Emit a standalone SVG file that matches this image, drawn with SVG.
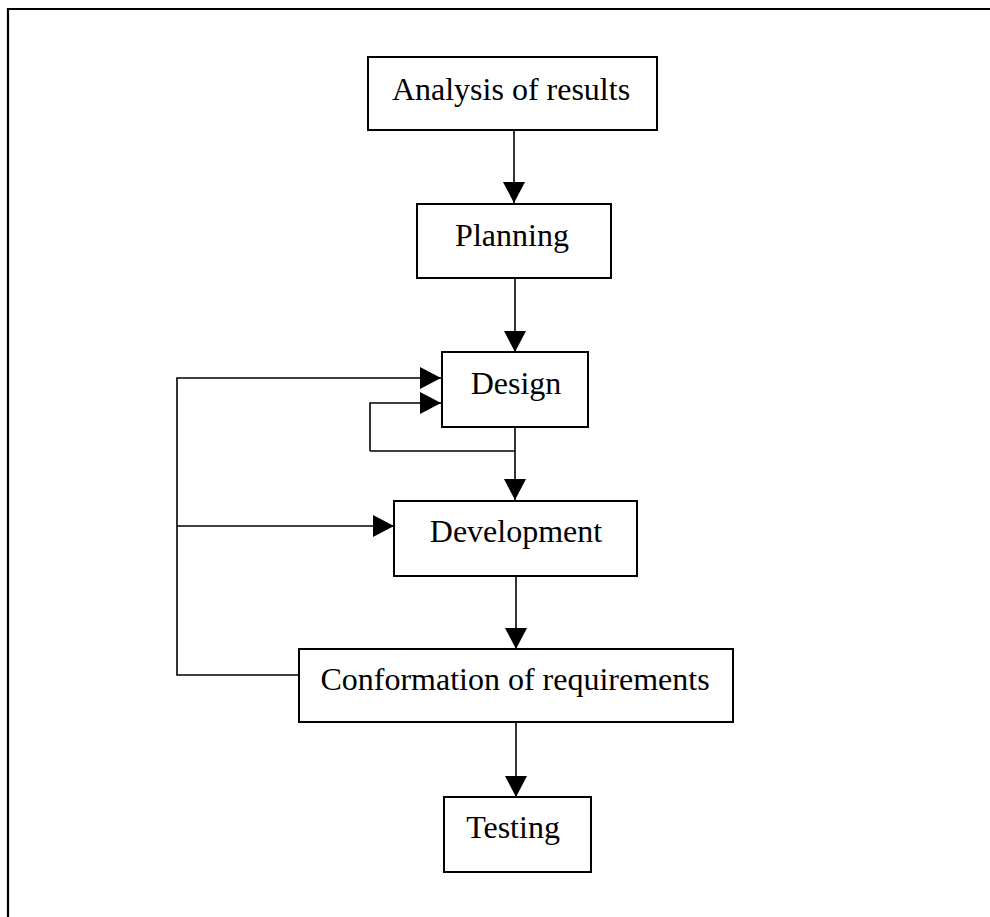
<svg xmlns="http://www.w3.org/2000/svg" width="990" height="917" viewBox="0 0 990 917">
<defs>
<style>
.box{fill:#fff;stroke:#000;stroke-width:2}
.lbl{font-family:"Liberation Serif","Times New Roman",serif;font-size:32px;fill:#000;text-anchor:middle}
.ln{fill:none;stroke:#000;stroke-width:1.6}
.frame{fill:none;stroke:#000;stroke-width:2.2}
</style>
<marker id="ah" markerUnits="userSpaceOnUse" markerWidth="22" markerHeight="22" viewBox="0 0 21 22" refX="21" refY="11" orient="auto">
<path d="M0,0 L21,11 L0,22 Z" fill="#000"/>
</marker>
</defs>
<rect width="990" height="917" fill="#fff"/>
<path class="frame" d="M8,917 L8,9 L990,9"/>
<g id="connectors">
<path class="ln" d="M514,130 L514,203" marker-end="url(#ah)"/>
<path class="ln" d="M515,278 L515,352" marker-end="url(#ah)"/>
<path class="ln" d="M515,427 L515,500" marker-end="url(#ah)"/>
<path class="ln" d="M370,451 L515,451"/>
<path class="ln" d="M370,451 L370,403 L441,403" marker-end="url(#ah)"/>
<path class="ln" d="M299,675 L177,675 L177,378 L441,378" marker-end="url(#ah)"/>
<path class="ln" d="M177,526 L394,526" marker-end="url(#ah)"/>
<path class="ln" d="M516,576 L516,649" marker-end="url(#ah)"/>
<path class="ln" d="M516,722 L516,797" marker-end="url(#ah)"/>
</g>
<g id="analysis">
<rect class="box" x="368" y="57" width="289" height="73"/>
<text class="lbl" x="511" y="100">Analysis of results</text>
</g>
<g id="planning">
<rect class="box" x="417" y="204" width="194" height="74"/>
<text class="lbl" x="512" y="246">Planning</text>
</g>
<g id="design">
<rect class="box" x="442" y="352" width="146" height="75"/>
<text class="lbl" x="516" y="394">Design</text>
</g>
<g id="development">
<rect class="box" x="394" y="501" width="243" height="75"/>
<text class="lbl" x="516" y="542">Development</text>
</g>
<g id="conformation">
<rect class="box" x="299" y="649" width="434" height="73"/>
<text class="lbl" x="515" y="690">Conformation of requirements</text>
</g>
<g id="testing">
<rect class="box" x="444" y="797" width="147" height="75"/>
<text class="lbl" x="513" y="838">Testing</text>
</g>
</svg>
